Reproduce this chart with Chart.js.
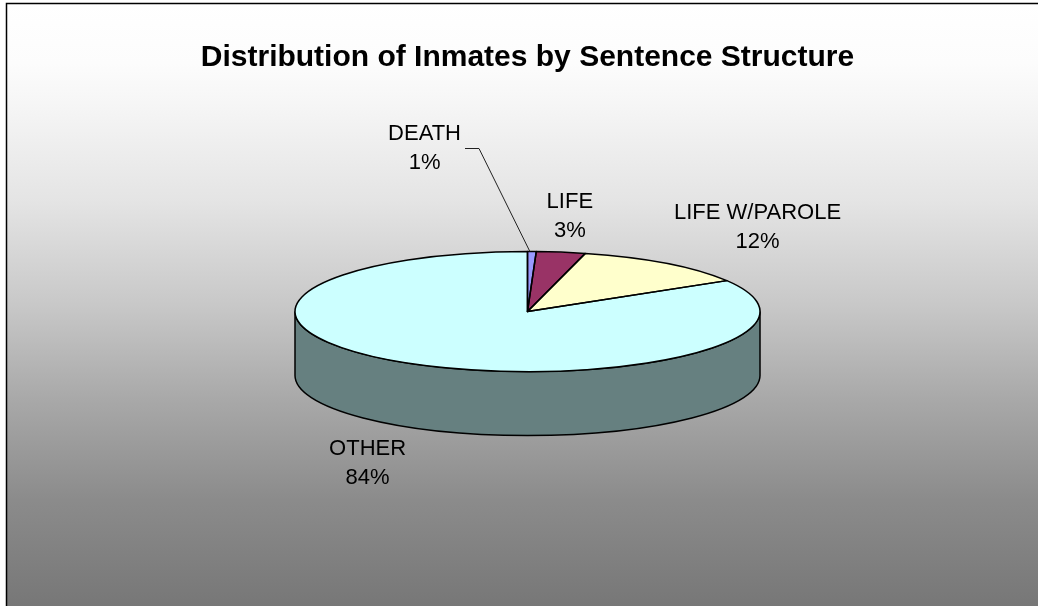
<!DOCTYPE html>
<html>
<head>
<meta charset="utf-8">
<title>Distribution of Inmates by Sentence Structure</title>
<script src="https://cdn.jsdelivr.net/npm/chart.js@4/dist/chart.umd.min.js"></script>
<style>
  body { margin: 0; background: #fff; }
  canvas { display: block; }
</style>
</head>
<body>
<canvas id="pieChart" width="1038" height="606"></canvas>
<script>
// data (percent of inmates)
const labels = ['DEATH', 'LIFE', 'LIFE W/PAROLE', 'OTHER'];
const values = [0.6, 3.4, 12.4, 83.6];
const colors = ['#9999FF', '#993366', '#FFFFCC', '#CCFFFF'];

const FONT = '"Liberation Sans", Arial, sans-serif';
const TILT = 60 / 232.5;   // vertical squash of the pie top
const DEPTH = 64;          // thickness of the 3d side

// DEATH label was pulled away from its slice in the original
const labelNudge = { 0: [-109, -67] };

function darken(hex, f) {
  const n = parseInt(hex.slice(1), 16);
  const r = Math.round(((n >> 16) & 255) * f);
  const g = Math.round(((n >> 8) & 255) * f);
  const b = Math.round((n & 255) * f);
  return `rgb(${r},${g},${b})`;
}

const pie3d = {
  id: 'pie3d',
  beforeDraw(chart) {
    const ctx = chart.ctx;
    const w = chart.width, h = chart.height;
    ctx.save();
    ctx.fillStyle = '#fff';
    ctx.fillRect(0, 0, w, h);
    const grad = ctx.createLinearGradient(0, 3, 0, h);
    grad.addColorStop(0, '#ffffff');
    grad.addColorStop(0.1, '#fcfcfc');
    grad.addColorStop(0.165, '#f6f6f6');
    grad.addColorStop(0.33, '#e4e4e4');
    grad.addColorStop(0.5, '#c8c8c8');
    grad.addColorStop(0.66, '#a8a8a8');
    grad.addColorStop(0.825, '#8b8b8b');
    grad.addColorStop(1, '#777777');
    ctx.fillStyle = grad;
    ctx.fillRect(6, 3, w, h);
    ctx.strokeStyle = '#000';
    ctx.lineWidth = 1.5;
    ctx.strokeRect(6.5, 3.5, w + 20, h + 20);
    ctx.restore();
  },
  beforeDatasetsDraw(chart) {
    const ctx = chart.ctx;
    const arcs = chart.getDatasetMeta(0).data;
    const { x, y, outerRadius: r } = arcs[0];
    const ry = r * TILT;

    // front side walls
    ctx.save();
    ctx.lineWidth = 1.5;
    ctx.strokeStyle = '#000';
    arcs.forEach((arc, i) => {
      const a = Math.max(arc.startAngle, 0);
      const b = Math.min(arc.endAngle, Math.PI);
      if (a >= b) return;
      ctx.beginPath();
      ctx.ellipse(x, y, r, ry, 0, a, b);
      ctx.ellipse(x, y + DEPTH, r, ry, 0, b, a, true);
      ctx.closePath();
      ctx.fillStyle = darken(colors[i], 0.5);
      ctx.fill();
      ctx.stroke();
    });
    ctx.restore();

    // squash the library's own arcs into the top face
    ctx.save();
    ctx.translate(x, y);
    ctx.scale(1, TILT);
    ctx.translate(-x, -y);
  },
  afterDatasetsDraw(chart) {
    const ctx = chart.ctx;
    ctx.restore();

    const arcs = chart.getDatasetMeta(0).data;
    const { x, y, outerRadius: r } = arcs[0];
    const ry = r * TILT;

    ctx.save();
    ctx.lineWidth = 1.5;
    ctx.strokeStyle = '#000';
    ctx.lineJoin = 'round';
    arcs.forEach(arc => {
      ctx.beginPath();
      ctx.moveTo(x, y);
      ctx.ellipse(x, y, r, ry, 0, arc.startAngle, arc.endAngle);
      ctx.closePath();
      ctx.stroke();
    });

    // labels
    const total = values.reduce((a, b) => a + b, 0);
    ctx.font = '22px ' + FONT;
    ctx.fillStyle = '#000';
    ctx.textAlign = 'center';
    ctx.textBaseline = 'middle';
    const lh = 29, gx = 7.5, gy = 7;
    arcs.forEach((arc, i) => {
      const m = (arc.startAngle + arc.endAngle) / 2;
      const c = Math.cos(m), s = Math.sin(m);
      const ax = x + r * c;
      const ay = y + ry * s + (s > 0 ? DEPTH : 0);
      const lines = [labels[i], Math.round(values[i] / total * 100) + '%'];
      const hw = Math.max(...lines.map(t => ctx.measureText(t).width)) / 2;
      const t = Math.max(-1, Math.min(1, c * 2));
      let cx = ax + t * (hw + gx);
      let cy = ay + (s > 0 ? 1 : -1) * (lh + gy);
      const nudge = labelNudge[i];
      if (nudge) {
        cx += nudge[0];
        cy += nudge[1];
        // leader line back to the slice
        ctx.save();
        ctx.lineWidth = 1;
        ctx.strokeStyle = '#222';
        ctx.beginPath();
        ctx.moveTo(cx + hw + 4, cy);
        ctx.lineTo(cx + hw + 18, cy);
        ctx.lineTo(ax - 2, ay);
        ctx.stroke();
        ctx.restore();
      }
      ctx.fillText(lines[0], cx, cy - lh / 2);
      ctx.fillText(lines[1], cx, cy + lh / 2);
    });
    ctx.restore();
  }
};

new Chart(document.getElementById('pieChart'), {
  type: 'pie',
  data: {
    labels: labels,
    datasets: [{
      data: values,
      backgroundColor: colors,
      borderWidth: 0,
      clip: false
    }]
  },
  options: {
    responsive: false,
    animation: false,
    events: [],
    layout: { padding: { left: 17, right: 0, top: 0, bottom: 62 } },
    plugins: {
      legend: { display: false },
      tooltip: { enabled: false },
      title: {
        display: true,
        text: 'Distribution of Inmates by Sentence Structure',
        color: '#000',
        font: { family: FONT, size: 30, weight: 'bold', lineHeight: 1.2 },
        padding: { top: 39.5, bottom: 3.5 }
      }
    }
  },
  plugins: [pie3d]
});
</script>
</body>
</html>
